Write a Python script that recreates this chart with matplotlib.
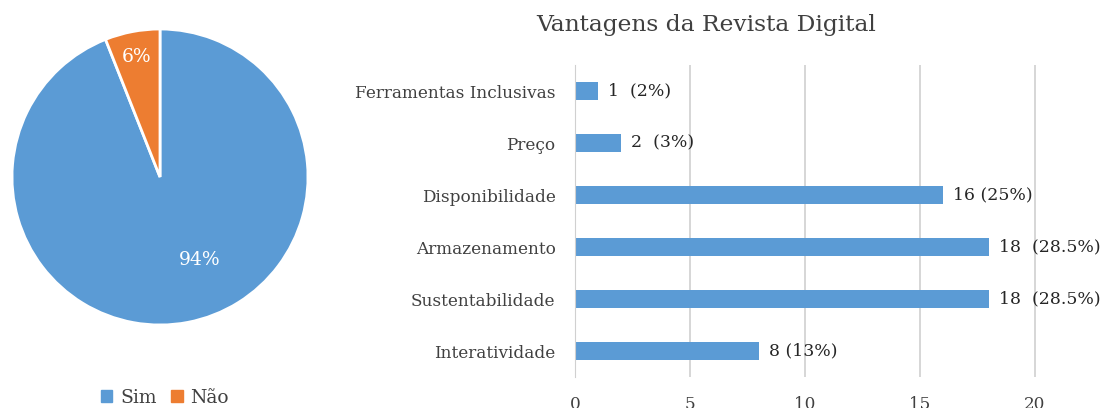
import matplotlib.pyplot as plt

pie_labels = ['Sim', 'Não']
pie_values = [94, 6]
pie_colors = ['#5B9BD5', '#ED7D31']

categories = ['Interatividade', 'Sustentabilidade', 'Armazenamento',
              'Disponibilidade', 'Preço', 'Ferramentas Inclusivas']
counts = [8, 18, 18, 16, 2, 1]
value_labels = ['8 (13%)', '18  (28.5%)', '18  (28.5%)', '16 (25%)', '2  (3%)', '1  (2%)']
x_ticks = [0, 5, 10, 15, 20]

plt.rcParams['font.family'] = ['DejaVu Serif']
text_color = '#404040'

W, H = 1102, 408
fig = plt.figure(figsize=(W / 100, H / 100), dpi=100)

# pie
ax1 = fig.add_axes([12 / W, 1 - 325 / H, 296 / W, 296 / H])
wedges, _ = ax1.pie(pie_values, colors=pie_colors, startangle=90, counterclock=False,
                    wedgeprops=dict(edgecolor='white', linewidth=2))
ax1.set_xlim(-1, 1)
ax1.set_ylim(-1, 1)
ax1.set_aspect('equal')
ax1.text(0.27, -0.56, '94%', color='white', fontsize=13.5, ha='center', va='center')
ax1.text(-0.16, 0.81, '6%', color='white', fontsize=13.5, ha='center', va='center')

handles = [plt.Rectangle((0, 0), 1, 1, color=c) for c in pie_colors]
fig.legend(handles, pie_labels, loc='center', bbox_to_anchor=(165 / W, 1 - 398 / H),
           ncol=2, frameon=False, fontsize=13.5, handlelength=0.6, handleheight=0.6,
           handletextpad=0.4, columnspacing=0.8, labelcolor=text_color)

# bars
ax2 = fig.add_axes([575 / W, 1 - 377 / H, 500 / W, 312 / H])
ypos = list(range(len(categories)))
ax2.barh(ypos, counts, height=0.35, color='#5B9BD5')
ax2.set_xlim(0, 500 / 23)
ax2.set_ylim(-0.5, len(categories) - 0.5)
ax2.set_yticks(ypos)
ax2.set_yticklabels(categories, fontsize=12.2, color=text_color)
ax2.set_xticks(x_ticks)
ax2.set_xticklabels([str(t) for t in x_ticks], fontsize=12.2, color=text_color)
ax2.tick_params(axis='y', length=0, pad=14)
ax2.tick_params(axis='x', length=0, pad=14)
for s in ['top', 'right', 'bottom']:
    ax2.spines[s].set_visible(False)
ax2.spines['left'].set_color('#d0d0d0')
ax2.xaxis.grid(True, color='#d0d0d0', linewidth=1.2)
ax2.set_axisbelow(True)
for y, v, lab in zip(ypos, counts, value_labels):
    ax2.text(v + 0.45, y, lab, va='center', ha='left', fontsize=12.4, color='#262626')

fig.text(706 / W, 1 - 25 / H, 'Vantagens da Revista Digital', ha='center', va='center',
         fontsize=16.8, color=text_color)

fig.savefig('out.png', dpi=100)
